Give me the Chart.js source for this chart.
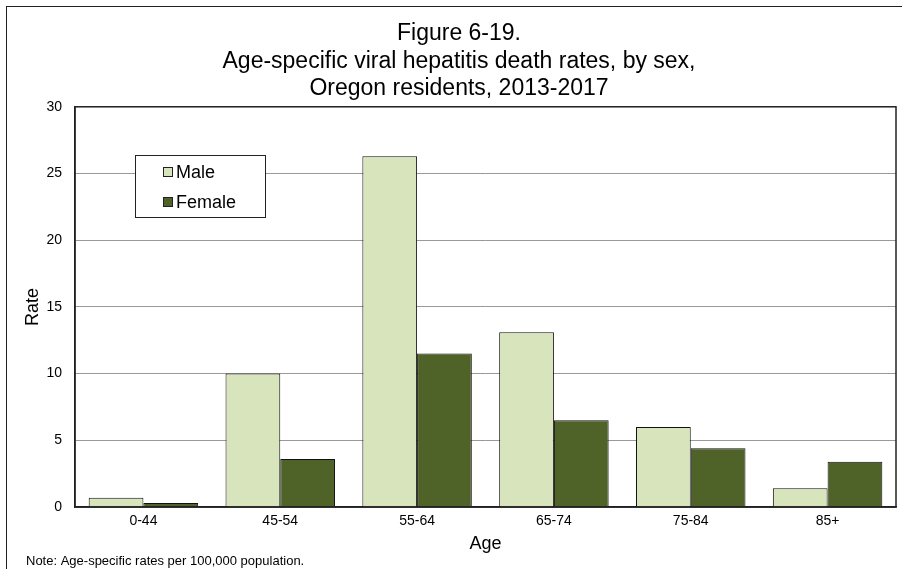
<!DOCTYPE html>
<html>
<head>
<meta charset="utf-8">
<script src="https://cdn.jsdelivr.net/npm/chart.js@4/dist/chart.umd.min.js"></script>
<style>
  html, body { margin: 0; padding: 0; background: #fff; }
  #wrap { width: 902px; height: 569px; position: relative; }
</style>
</head>
<body>
<div id="wrap"><canvas id="chart"></canvas></div>
<script>
// Data
const ageGroups = ['0-44', '45-54', '55-64', '65-74', '75-84', '85+'];
const maleRates = [0.7, 10.0, 26.3, 13.1, 6.0, 1.4];
const femaleRates = [0.3, 3.6, 11.5, 6.5, 4.4, 3.4];
const yTicks = [0, 5, 10, 15, 20, 25, 30];

const titleLines = [
  'Figure 6-19.',
  'Age-specific viral hepatitis death rates, by sex,',
  'Oregon residents, 2013-2017'
];
const noteText = 'Note: Age-specific rates per 100,000 population.';

const FONT = 'Arial, "Liberation Sans", Helvetica, sans-serif';

// Outer frame, plot box, boxed legend and note
const decorations = {
  id: 'decorations',
  beforeDraw(chart) {
    const ctx = chart.ctx;
    ctx.save();
    ctx.fillStyle = '#fff';
    ctx.fillRect(0, 0, chart.width, chart.height);
    ctx.strokeStyle = '#222';
    ctx.lineWidth = 1;
    ctx.strokeRect(6.5, 6.5, 1000, 1000);
    ctx.restore();
  },
  afterDraw(chart) {
    const ctx = chart.ctx;
    const a = chart.chartArea;
    ctx.save();
    ctx.strokeStyle = '#222';
    ctx.lineWidth = 1.5;
    ctx.strokeRect(a.left, a.top, a.right - a.left, a.bottom - a.top);

    // legend box
    const lx = 135.5, ly = 155.5, lw = 130, lh = 62;
    ctx.fillStyle = '#fff';
    ctx.fillRect(lx, ly, lw, lh);
    ctx.strokeStyle = '#222';
    ctx.lineWidth = 1;
    ctx.strokeRect(lx, ly, lw, lh);
    ctx.font = '18px ' + FONT;
    ctx.textBaseline = 'middle';
    chart.data.datasets.forEach((ds, i) => {
      const y = 172 + i * 30;
      ctx.fillStyle = ds.backgroundColor;
      ctx.fillRect(163.5, y - 4.5, 9, 9);
      ctx.strokeStyle = '#222';
      ctx.strokeRect(163.5, y - 4.5, 9, 9);
      ctx.fillStyle = '#000';
      ctx.fillText(ds.label, 176, y + 1);
    });

    // note
    ctx.font = '13px ' + FONT;
    ctx.fillStyle = '#000';
    ctx.fillText(noteText, 26, 561);
    ctx.restore();
  }
};

new Chart(document.getElementById('chart'), {
  type: 'bar',
  data: {
    labels: ageGroups,
    datasets: [{
      label: 'Male',
      data: maleRates,
      backgroundColor: '#d8e4bc',
      borderColor: '#111',
      borderWidth: 1,
      borderSkipped: 'bottom'
    }, {
      label: 'Female',
      data: femaleRates,
      backgroundColor: '#4f6228',
      borderColor: '#111',
      borderWidth: 1,
      borderSkipped: 'bottom'
    }]
  },
  options: {
    responsive: true,
    maintainAspectRatio: false,
    animation: false,
    events: [],
    categoryPercentage: 0.8,
    barPercentage: 1.0,
    layout: { padding: { left: 22, right: 6, top: 0, bottom: 0 } },
    plugins: {
      legend: { display: false },
      tooltip: { enabled: false },
      title: {
        display: true,
        text: titleLines,
        color: '#000',
        font: { family: FONT, size: 23, weight: 'normal', lineHeight: 1.2 },
        padding: { top: 20, bottom: 4 }
      }
    },
    scales: {
      x: {
        afterFit(scale) { scale.height = 62; },
        grid: { display: false, drawTicks: false },
        border: { display: true, color: '#222', width: 1.5 },
        ticks: { color: '#000', font: { family: FONT, size: 14 }, padding: 6 },
        title: {
          display: true,
          text: 'Age',
          color: '#000',
          font: { family: FONT, size: 18 },
          padding: { top: 0, bottom: 14 }
        }
      },
      y: {
        min: 0,
        max: 30,
        afterFit(scale) { scale.width = 53; },
        afterBuildTicks(scale) { scale.ticks = yTicks.map(v => ({ value: v })); },
        grid: { color: '#999', lineWidth: 1, drawTicks: false },
        border: { display: true, color: '#222', width: 1.5 },
        ticks: { color: '#000', font: { family: FONT, size: 14 }, padding: 13 },
        title: {
          display: true,
          text: 'Rate',
          color: '#000',
          font: { family: FONT, size: 18 },
          padding: { top: 0, bottom: 0 }
        }
      }
    }
  },
  plugins: [decorations]
});
</script>
</body>
</html>
